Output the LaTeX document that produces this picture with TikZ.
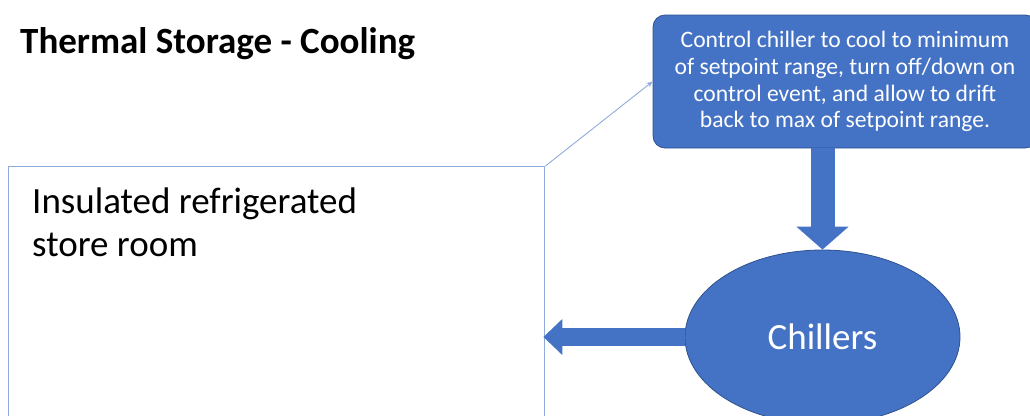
\documentclass[tikz,border=0pt]{standalone}
\usepackage{fontspec}
\setmainfont{Carlito}
\usetikzlibrary{shapes.geometric,arrows.meta}
\definecolor{accent}{HTML}{4472C4}
\definecolor{accentdark}{HTML}{2F528F}
\definecolor{outline}{HTML}{8FAADC}

\tikzset{
  room/.style={draw=outline, line width=1.4pt, inner sep=0pt},
  roomtext/.style={anchor=north west, inner sep=0pt, align=left,
    font=\fontsize{37}{43}\selectfont},
  notebox/.style={rounded corners=12pt, fill=accent, draw=accentdark,
    line width=0.8pt, text=white, align=center,
    font=\fontsize{23.6}{26.7}\selectfont},
  unit/.style={ellipse, fill=accent, draw=accentdark, line width=0.8pt, inner sep=0pt},
  unittext/.style={text=white, font=\fontsize{37}{42}\selectfont},
  flow/.style={draw=accent},
  pointer/.style={draw=outline, line width=0.9pt, -{Stealth[length=6pt,width=5pt]}},
}

\begin{document}
\begin{tikzpicture}[x=1pt,y=-1pt]
\useasboundingbox (0,0) rectangle (1030,415);
\begin{scope}
\clip (0,0) rectangle (1030,415);

% heading
\node[anchor=base west, inner sep=0pt, font=\bfseries\fontsize{37}{42}\selectfont]
  (title) at (20,53) {Thermal Storage - Cooling};

% the store room (runs off the lower edge)
\node[room, anchor=north west, minimum width=536pt, minimum height=320pt]
  (room) at (8,166) {};
\node[roomtext] (roomlabel) at (32,188) {Insulated refrigerated\\store room};

% control strategy note
\node[notebox, minimum width=384pt, minimum height=133pt]
  (note) at (845,81.5) {Control chiller to cool to minimum\\of setpoint range, turn off/down on\\control event, and allow to drift\\back to max of setpoint range.};

% chiller plant
\node[unit, minimum width=275pt, minimum height=174pt] (chill) at (822.5,337) {};
\node[unittext, inner sep=0pt] (chilllabel) at (chill.center) {Chillers};

% connectors
\draw[pointer] (room.north east) -- (note.west);
\draw[flow, line width=24pt, -{Triangle[width=51pt,length=23pt]}]
  (chill.north |- note.south) -- (chill.north);
\draw[flow, line width=18pt, -{Triangle[width=35pt,length=19pt]}]
  (chill.west) -- ([xshift=-2pt]chill.west -| room.east);
\end{scope}
\end{tikzpicture}
\end{document}
